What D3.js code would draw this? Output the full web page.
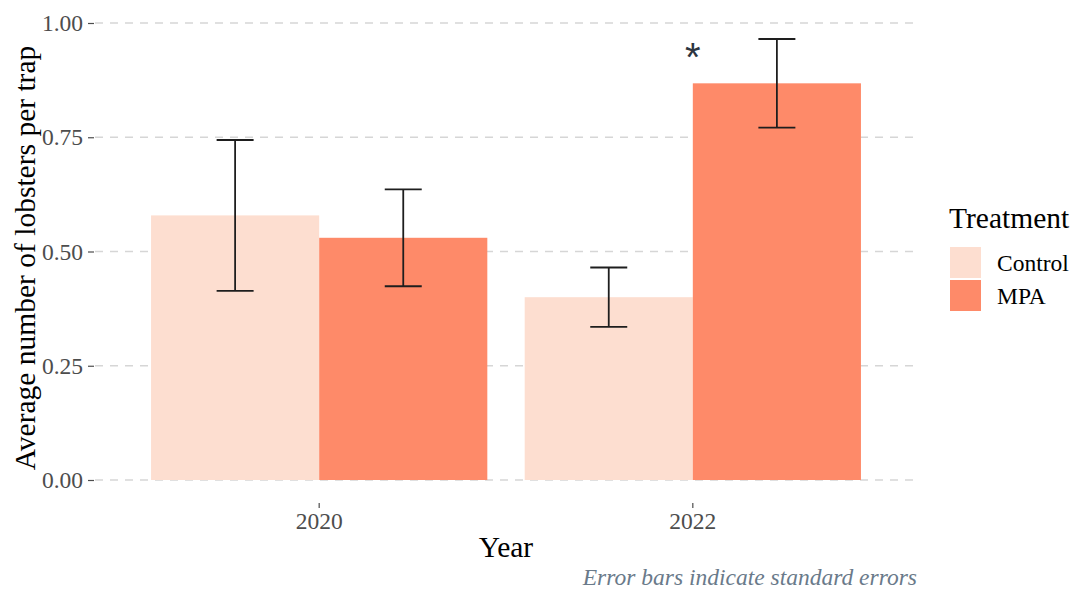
<!DOCTYPE html>
<html>
<head>
<meta charset="utf-8">
<script src="https://cdn.jsdelivr.net/npm/d3@7"></script>
<style>
  html, body { margin: 0; padding: 0; background: #ffffff; }
  svg { display: block; }
  text { font-family: "Liberation Serif", "Times New Roman", serif; }
</style>
</head>
<body>
<svg id="chart" width="1070" height="590"></svg>
<script>
// Lobster survey: mean catch per trap by year and treatment, with standard errors
const years = ["2020", "2022"];
const treatments = ["Control", "MPA"];
const controlMeans = [0.579, 0.400];
const mpaMeans = [0.530, 0.868];
const controlSE = [0.165, 0.065];
const mpaSE = [0.106, 0.097];
const yTicks = [0, 0.25, 0.5, 0.75, 1.0];
const fillColors = ["#FDDED0", "#FE8A69"];

const rows = [];
years.forEach((yr, i) => {
  rows.push({ year: yr, treatment: "Control", mean: controlMeans[i], se: controlSE[i] });
  rows.push({ year: yr, treatment: "MPA", mean: mpaMeans[i], se: mpaSE[i] });
});

const svg = d3.select("#chart");
// panel keeps a 5% margin below zero, like the default continuous expansion
const panel = { left: 95, right: 917, top: 23, bottom: 480, floor: 503 };

const x = d3.scaleBand()
  .domain(years)
  .range([panel.left, panel.right])
  .paddingInner(0.1)
  .paddingOuter(0.15);

const xSub = d3.scaleBand()
  .domain(treatments)
  .range([0, x.bandwidth()])
  .padding(0);

const y = d3.scaleLinear().domain([0, 1]).range([panel.bottom, panel.top]);

const color = d3.scaleOrdinal().domain(treatments).range(fillColors);

const tickFont = "23.5px";
const titleFont = "29.5px";

// dashed horizontal grid
svg.append("g")
  .selectAll("line")
  .data(yTicks)
  .join("line")
  .attr("x1", panel.left)
  .attr("x2", panel.right)
  .attr("y1", d => y(d))
  .attr("y2", d => y(d))
  .attr("stroke", "#d6d6d6")
  .attr("stroke-width", 1.3)
  .attr("stroke-dasharray", "8,7");

// y axis
const yAxis = svg.append("g")
  .attr("transform", `translate(${panel.left - 1},0)`)
  .call(d3.axisLeft(y).tickValues(yTicks).tickFormat(d3.format(".2f")).tickSize(6).tickPadding(5));
yAxis.select(".domain").remove();
yAxis.selectAll(".tick line").attr("stroke", "#4d4d4d").attr("stroke-width", 1.2);
yAxis.selectAll(".tick text")
  .attr("fill", "#4d4d4d")
  .style("font-size", tickFont)
  .style("font-family", "'Liberation Serif', serif");

// x axis
const xAxis = svg.append("g")
  .attr("transform", `translate(0,${panel.floor})`)
  .call(d3.axisBottom(x).tickSize(5).tickPadding(4));
xAxis.select(".domain").remove();
xAxis.selectAll(".tick line").attr("stroke", "#4d4d4d").attr("stroke-width", 1.2);
xAxis.selectAll(".tick text")
  .attr("fill", "#4d4d4d")
  .style("font-size", tickFont)
  .style("font-family", "'Liberation Serif', serif");

// bars
svg.append("g")
  .selectAll("rect")
  .data(rows)
  .join("rect")
  .attr("x", d => x(d.year) + xSub(d.treatment))
  .attr("width", xSub.bandwidth())
  .attr("y", d => y(d.mean))
  .attr("height", d => y(0) - y(d.mean))
  .attr("fill", d => color(d.treatment));

// error bars
const capHalf = xSub.bandwidth() * 0.11;
const eb = svg.append("g")
  .selectAll("g")
  .data(rows)
  .join("g")
  .attr("transform", d => `translate(${x(d.year) + xSub(d.treatment) + xSub.bandwidth() / 2},0)`)
  .attr("stroke", "#1e1e1e")
  .attr("stroke-width", 1.8);
eb.append("line")
  .attr("x1", 0).attr("x2", 0)
  .attr("y1", d => y(d.mean + d.se))
  .attr("y2", d => y(d.mean - d.se));
eb.append("line")
  .attr("x1", -capHalf).attr("x2", capHalf)
  .attr("y1", d => y(d.mean + d.se))
  .attr("y2", d => y(d.mean + d.se));
eb.append("line")
  .attr("x1", -capHalf).attr("x2", capHalf)
  .attr("y1", d => y(d.mean - d.se))
  .attr("y2", d => y(d.mean - d.se));

// significance marker over 2022
svg.append("text")
  .attr("x", x("2022") + x.bandwidth() / 2)
  .attr("y", y(0.896))
  .attr("text-anchor", "middle")
  .attr("fill", "#2c3540")
  .style("font-family", "'Liberation Sans', Arial, sans-serif")
  .style("font-size", "40px")
  .text("*");

// axis titles
svg.append("text")
  .attr("x", (panel.left + panel.right) / 2)
  .attr("y", 557)
  .attr("text-anchor", "middle")
  .attr("fill", "#000")
  .style("font-size", titleFont)
  .text("Year");

svg.append("text")
  .attr("transform", "translate(35,258) rotate(-90)")
  .attr("text-anchor", "middle")
  .attr("fill", "#000")
  .style("font-size", titleFont)
  .text("Average number of lobsters per trap");

// caption
svg.append("text")
  .attr("x", panel.right)
  .attr("y", 585)
  .attr("text-anchor", "end")
  .attr("fill", "#6a7a8a")
  .style("font-style", "italic")
  .style("font-size", tickFont)
  .text("Error bars indicate standard errors");

// legend
const legend = svg.append("g").attr("transform", "translate(949,0)");
legend.append("text")
  .attr("x", 0)
  .attr("y", 228)
  .attr("fill", "#000")
  .style("font-size", titleFont)
  .text("Treatment");
const keys = legend.selectAll("g.key")
  .data(treatments)
  .join("g")
  .attr("class", "key")
  .attr("transform", (d, i) => `translate(1,${247 + i * 33})`);
keys.append("rect")
  .attr("width", 31)
  .attr("height", 31)
  .attr("fill", d => color(d));
keys.append("text")
  .attr("x", 47)
  .attr("y", 24)
  .attr("fill", "#000")
  .style("font-size", tickFont)
  .text(d => d);
</script>
</body>
</html>
